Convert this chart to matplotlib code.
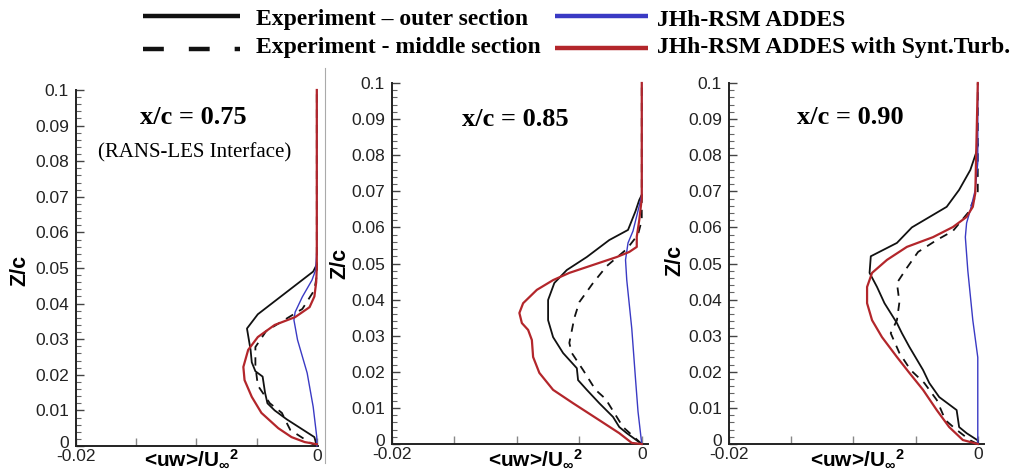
import matplotlib
matplotlib.use("Agg")
import matplotlib.pyplot as plt
from matplotlib.lines import Line2D
from matplotlib.ticker import MultipleLocator
import matplotlib.transforms as mtransforms

plt.rcParams['mathtext.fontset'] = 'custom'
plt.rcParams['mathtext.rm'] = 'Liberation Sans:bold'
plt.rcParams['mathtext.it'] = 'Liberation Sans:bold'
plt.rcParams['mathtext.bf'] = 'Liberation Sans:bold'
plt.rcParams['lines.scale_dashes'] = False

# ---------------- data ----------------
titles = ["x/c = 0.75", "x/c = 0.85", "x/c = 0.90"]
subtitle = "(RANS-LES Interface)"
legend_labels = ["Experiment \u2013 outer section", "Experiment - middle section",
                 "JHh-RSM ADDES", "JHh-RSM ADDES with Synt.Turb."]
ytick_vals = [0, 0.01, 0.02, 0.03, 0.04, 0.05, 0.06, 0.07, 0.08, 0.09, 0.1]
ytick_labels = ["0", "0.01", "0.02", "0.03", "0.04", "0.05", "0.06", "0.07", "0.08", "0.09", "0.1"]
xtick_vals = [-0.02, -0.015, -0.01, -0.005, 0]
xtick_labels = ["-0.02", "", "", "", "0"]

# panel 1 (x/c = 0.75)
p1_outer_z = [0.0, 0.0025, 0.0075, 0.010, 0.012, 0.015, 0.0195, 0.021, 0.0235, 0.027, 0.033, 0.037, 0.049, 0.051]
p1_outer_x = [0.0, -0.0002, -0.0025, -0.0035, -0.0041, -0.0043, -0.0045, -0.0051, -0.0054, -0.0055, -0.0058, -0.0049, -0.0003, 0.0]
p1_mid_z = [0.0, 0.001, 0.0045, 0.0065, 0.0093, 0.012, 0.017, 0.0225, 0.0278, 0.0323, 0.0385, 0.0438, 0.048, 0.1]
p1_mid_x = [0.0, -0.0006, -0.0022, -0.0025, -0.0029, -0.0039, -0.0049, -0.0051, -0.0051, -0.0042, -0.0012, -0.0002, 0.0, 0.0]
p1_rsm_z = [0.0, 0.0025, 0.011, 0.0205, 0.0298, 0.0354, 0.0376, 0.0419, 0.0466, 0.0494, 0.055, 0.1]
p1_rsm_x = [0.0, 0.0, -0.0003, -0.0008, -0.0016, -0.0019, -0.0018, -0.0012, -0.0004, -0.0001, 0.0, 0.0]
p1_syn_z = [0.0005, 0.0011, 0.0025, 0.005, 0.0093, 0.0138, 0.0185, 0.0222, 0.027, 0.0306, 0.034, 0.0362, 0.039, 0.042, 0.046, 0.05, 0.1]
p1_syn_x = [0.0, -0.001, -0.0021, -0.0032, -0.0046, -0.0054, -0.006, -0.0061, -0.0057, -0.0049, -0.0035, -0.0018, -0.0006, -0.0002, -0.00005, 0.0, 0.0]

# panel 2 (x/c = 0.85)
p2_outer_z = [0.0, 0.003, 0.0047, 0.0075, 0.0113, 0.015, 0.0177, 0.021, 0.0252, 0.0296, 0.0343, 0.0399, 0.0446, 0.0482, 0.0518, 0.0565, 0.0593, 0.0645, 0.0676, 0.069]
p2_outer_x = [0.0, -0.0012, -0.0018, -0.0023, -0.0034, -0.0044, -0.0051, -0.0052, -0.0063, -0.0071, -0.0075, -0.0075, -0.007, -0.006, -0.0044, -0.0026, -0.0011, -0.0005, -0.0002, 0.0]
p2_mid_z = [0.0, 0.0047, 0.0086, 0.0125, 0.015, 0.0205, 0.0252, 0.028, 0.0349, 0.0393, 0.0446, 0.0493, 0.054, 0.058, 0.062, 0.1]
p2_mid_x = [0.0, -0.0015, -0.0022, -0.0029, -0.0037, -0.0047, -0.0056, -0.0058, -0.0054, -0.005, -0.0039, -0.0028, -0.0012, -0.0003, 0.0, 0.0]
p2_rsm_z = [0.0, 0.009, 0.018, 0.032, 0.0454, 0.051, 0.0557, 0.059, 0.066, 0.069, 0.1]
p2_rsm_x = [0.0, -0.0003, -0.0005, -0.0008, -0.0012, -0.0013, -0.0011, -0.0007, -0.0002, 0.0, 0.0]
p2_syn_z = [0.0, 0.0003, 0.003, 0.0066, 0.0113, 0.015, 0.0197, 0.0241, 0.0288, 0.0316, 0.0335, 0.0363, 0.039, 0.0427, 0.0454, 0.0474, 0.0496, 0.0518, 0.0532, 0.0546, 0.0574, 0.062, 0.068, 0.1]
p2_syn_x = [0.0, -0.0008, -0.0018, -0.0034, -0.0055, -0.0071, -0.0082, -0.0087, -0.0088, -0.0091, -0.0096, -0.0098, -0.0095, -0.0084, -0.0071, -0.0058, -0.0039, -0.002, -0.001, -0.0004, -0.0004, -0.0002, 0.0, 0.0]

# panel 3 (x/c = 0.90)
p3_outer_z = [0.0, 0.001, 0.003, 0.0047, 0.0094, 0.013, 0.0169, 0.0205, 0.0269, 0.0307, 0.0335, 0.039, 0.0435, 0.0474, 0.052, 0.0557, 0.060, 0.0657, 0.0704, 0.0759, 0.081, 0.083]
p3_outer_x = [0.0, 0.0, -0.0009, -0.0015, -0.0017, -0.0031, -0.0039, -0.0044, -0.0055, -0.0061, -0.0065, -0.0075, -0.0081, -0.0087, -0.0086, -0.0065, -0.0053, -0.0025, -0.0015, -0.0006, -0.0001, 0.0]
p3_mid_z = [0.0, 0.001, 0.0039, 0.0066, 0.0122, 0.0169, 0.0205, 0.0252, 0.0307, 0.0343, 0.0393, 0.0446, 0.0488, 0.0532, 0.0565, 0.059, 0.064, 0.07, 0.1]
p3_mid_x = [0.0, -0.0006, -0.0017, -0.0026, -0.0033, -0.0043, -0.0054, -0.0063, -0.007, -0.0065, -0.0063, -0.0065, -0.0057, -0.0048, -0.0033, -0.002, -0.0008, 0.0, 0.0]
p3_rsm_z = [0.0, 0.024, 0.0343, 0.048, 0.0573, 0.0612, 0.0648, 0.0704, 0.078, 0.1]
p3_rsm_x = [0.0, 0.0, -0.0004, -0.0008, -0.001, -0.0009, -0.0006, -0.0002, 0.0, 0.0]
p3_syn_z = [0.0, 0.0011, 0.0047, 0.0094, 0.015, 0.0197, 0.0241, 0.0296, 0.0343, 0.039, 0.0435, 0.0474, 0.051, 0.0546, 0.0573, 0.0601, 0.0629, 0.0657, 0.0695, 0.1]
p3_syn_x = [0.0, -0.0012, -0.0023, -0.0033, -0.0044, -0.0055, -0.0065, -0.0077, -0.0085, -0.0089, -0.0089, -0.0085, -0.0073, -0.0057, -0.0036, -0.002, -0.0009, -0.0004, -0.0002, 0.0]

# ---------------- styling ----------------
W, H = 1022, 473
BLACK = '#111111'
BLUE = '#3a3ac4'
RED = '#b3262b'
SANS = 'Liberation Sans'
SERIF = 'Liberation Serif'

def fx(px):
    return px / W

def fy(py):
    return 1 - py / H

fig = plt.figure(figsize=(W / 100, H / 100), dpi=100)

# axes boxes in pixels: left, right, top, bottom, x right limit
boxes = [(76, 318, 90, 446, 0.0001),
         (392, 648, 83, 444, 0.0005),
         (729, 984, 83, 444, 0.0005)]

panels = [
    (p1_outer_x, p1_outer_z, p1_mid_x, p1_mid_z, p1_rsm_x, p1_rsm_z, p1_syn_x, p1_syn_z),
    (p2_outer_x, p2_outer_z, p2_mid_x, p2_mid_z, p2_rsm_x, p2_rsm_z, p2_syn_x, p2_syn_z),
    (p3_outer_x, p3_outer_z, p3_mid_x, p3_mid_z, p3_rsm_x, p3_rsm_z, p3_syn_x, p3_syn_z),
]

title_pos = [(193, 118), (515, 120), (850, 118)]
xlabel_pos = [(192, 459), (536, 459), (858, 459)]
ylabel_pos = [(20, 270), (340, 263), (675, 260)]

up_shift = mtransforms.ScaledTranslation(0, 4 / 100, fig.dpi_scale_trans)

for i, ((l, r, t, b, xr), data) in enumerate(zip(boxes, panels)):
    ax = fig.add_axes([fx(l), fy(b), fx(r) - fx(l), fy(t) - fy(b)])
    ox, oz, mx, mz, rx, rz, sx, sz = data
    ax.plot(rx, rz, color=BLUE, lw=1.0, clip_on=False, zorder=3)
    ax.plot(mx, mz, color=BLACK, lw=1.3, dashes=(6, 5), clip_on=False, zorder=2)
    ax.plot(ox, oz, color=BLACK, lw=1.3, clip_on=False, zorder=2)
    ax.plot(sx, sz, color=RED, lw=1.6, clip_on=False, zorder=4)
    ax.set_xlim(-0.02, xr)
    ax.set_ylim(0, 0.1)
    for s in ['top', 'right']:
        ax.spines[s].set_visible(False)
    for s in ['left', 'bottom']:
        ax.spines[s].set_linewidth(1.4)
        ax.spines[s].set_color('#222222')
    ax.set_yticks(ytick_vals)
    ax.set_yticklabels(ytick_labels, fontfamily=SANS, fontsize=12.5, color='#222222')
    ax.yaxis.set_minor_locator(MultipleLocator(0.002))
    ax.set_xticks(xtick_vals)
    ax.set_xticklabels(xtick_labels, fontfamily=SANS, fontsize=12.5, color='#222222')
    ax.tick_params(axis='y', which='major', direction='in', length=6, width=1.0, pad=5, color='#444444')
    ax.tick_params(axis='y', which='minor', direction='in', length=3.5, width=0.8, color='#666666')
    ax.tick_params(axis='x', which='major', direction='in', length=6, width=1.0, pad=2.5, color='#888888')
    ax.patch.set_alpha(0)
    # lift the "0" of the y axis slightly, as in the reference
    lbl0 = ax.get_yticklabels()[0]
    lbl0.set_transform(lbl0.get_transform() + up_shift)

    tx, ty = title_pos[i]
    fig.text(fx(tx), fy(ty), titles[i], fontfamily=SERIF, fontweight='bold', fontsize=19,
             ha='center', va='center')
    xx, xy = xlabel_pos[i]
    fig.text(fx(xx), fy(xy), r'<uw>/U$_{\infty}$$^{2}$', fontfamily=SANS, fontweight='bold',
             fontsize=15, ha='center', va='center')
    yx, yy = ylabel_pos[i]
    fig.text(fx(yx), fy(yy), 'Z/c', fontfamily=SANS, fontweight='bold', fontsize=15.5,
             rotation=90, ha='center', va='center')

fig.text(fx(195), fy(153), subtitle, fontfamily=SERIF, fontsize=15, ha='center', va='center')

# divider between first and second panel
fig.add_artist(Line2D([fx(325), fx(325)], [fy(68), fy(463)], color='#aaaaaa', lw=0.8))

# legend
leg_lines = [
    ((143, 240), 16, BLACK, None),
    ((143, 240), 49, BLACK, (15, 18)),
    ((555, 648), 16, BLUE, None),
    ((555, 648), 48, RED, None),
]
leg_text = [(256, 20), (256, 48), (657, 20), (657, 48)]
for (xs, y, c, d), lab, (tx, ty) in zip(leg_lines, legend_labels, leg_text):
    kw = dict(color=c, lw=3.2, solid_capstyle='butt')
    ln = Line2D([fx(xs[0]), fx(xs[1])], [fy(y), fy(y)], **kw)
    if d is not None:
        ln.set_dashes(d)
        ln.set_dash_capstyle('butt')
    fig.add_artist(ln)
    fig.text(fx(tx), fy(ty), lab, fontfamily=SERIF, fontweight='bold', fontsize=17,
             ha='left', va='center')

fig.savefig('out.png', dpi=100)
